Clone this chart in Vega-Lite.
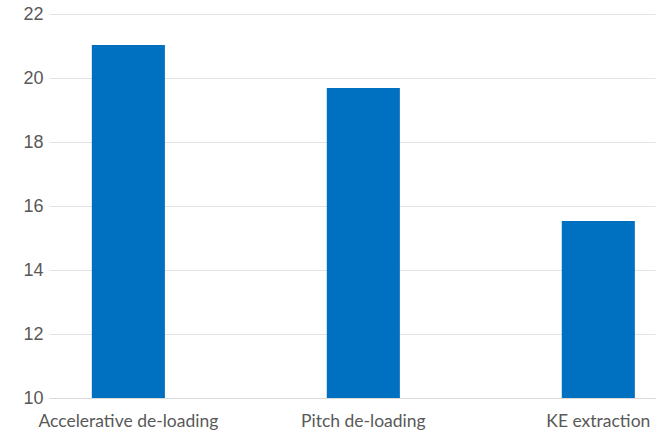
{
  "$schema": "https://vega.github.io/schema/vega-lite/v6.json",
  "autosize": "none",
  "width": 606,
  "height": 384,
  "padding": {"left": 49, "top": 14, "right": 13, "bottom": 39},
  "background": "white",
  "data": {"values": [
    {"category": "Accelerative de-loading", "value": 21.03},
    {"category": "Pitch de-loading", "value": 19.69},
    {"category": "KE extraction", "value": 15.53}
  ]},
  "mark": {"type": "bar", "color": "#0070C0", "clip": true},
  "encoding": {
    "x": {
      "field": "category", "type": "nominal", "sort": null,
      "scale": {"paddingInner": 0.689, "paddingOuter": 0.134, "align": 0.68},
      "axis": {"title": null, "labelAngle": 0, "ticks": false, "domain": true, "domainColor": "#d9d9d9",
               "labelFont": "Lato", "labelFontSize": 17.5, "labelColor": "#595959", "labelPadding": 14}
    },
    "y": {
      "field": "value", "type": "quantitative",
      "scale": {"domain": [10, 22], "zero": false, "nice": false},
      "axis": {"title": null, "values": [10, 12, 14, 16, 18, 20, 22], "ticks": false, "domain": false,
               "gridColor": "#e3e3e3", "labelFont": "Liberation Sans", "labelFontSize": 18,
               "labelColor": "#595959", "labelPadding": 6}
    }
  },
  "config": {"view": {"stroke": null}}
}
